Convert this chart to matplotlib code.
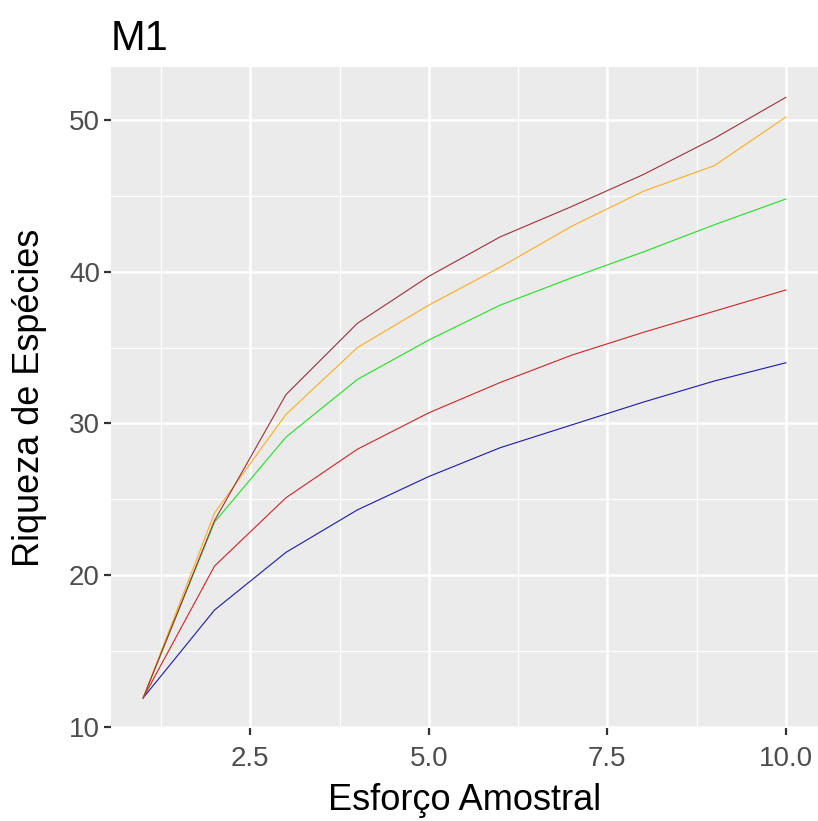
import numpy as np
import matplotlib
matplotlib.use("Agg")
import matplotlib.pyplot as plt
from matplotlib.ticker import MultipleLocator

# ------------------------- data -------------------------
esforco = [1, 2, 3, 4, 5, 6, 7, 8, 9, 10]

riq_brown = [11.9, 23.6, 31.9, 36.6, 39.7, 42.3, 44.3, 46.4, 48.8, 51.5]
riq_orange = [11.9, 24.1, 30.6, 35.0, 37.8, 40.3, 43.0, 45.3, 47.0, 50.2]
riq_green = [11.9, 23.5, 29.1, 32.9, 35.5, 37.8, 39.6, 41.3, 43.1, 44.8]
riq_red = [11.9, 20.6, 25.1, 28.3, 30.7, 32.7, 34.5, 36.0, 37.4, 38.8]
riq_blue = [11.9, 17.7, 21.5, 24.3, 26.5, 28.4, 29.9, 31.4, 32.8, 34.0]

SERIES = [
    (riq_blue, "#1a1aa8"),
    (riq_red, "#d02525"),
    (riq_green, "#22e022"),
    (riq_orange, "#ffad20"),
    (riq_brown, "#a0303a"),
]

plt.rcParams["font.family"] = ["Liberation Sans", "DejaVu Sans"]

# ------------------------- figure -------------------------
fig = plt.figure(figsize=(8.18, 8.21), dpi=100)
ax = fig.add_axes([111 / 818, 93 / 821, 707 / 818, 661 / 821])

ax.set_facecolor("#EBEBEB")
for s in ax.spines.values():
    s.set_visible(False)

for ys, col in SERIES:
    ax.plot(esforco, ys, color=col, linewidth=0.8, zorder=3)

ax.set_xlim(0.55, 10.45)
ax.set_ylim(9.92, 53.5)
ax.xaxis.set_minor_locator(MultipleLocator(1.25))
ax.yaxis.set_minor_locator(MultipleLocator(5))
ax.set_xticks([2.5, 5.0, 7.5, 10.0])
ax.set_xticklabels(["2.5", "5.0", "7.5", "10.0"])
ax.set_yticks([10, 20, 30, 40, 50])

ax.grid(which="major", color="white", linewidth=1.8, zorder=0)
ax.grid(which="minor", color="white", linewidth=0.9, zorder=0)
ax.set_axisbelow(True)

ax.tick_params(which="major", length=5, width=1.6, color="#333333",
               labelcolor="#4D4D4D", labelsize=20, pad=3)
ax.tick_params(axis="x", which="major", pad=8)
ax.tick_params(which="minor", length=0)

ax.set_xlabel("Esforço Amostral", fontsize=26, color="black", labelpad=8)
ax.set_ylabel("Riqueza de Espécies", fontsize=26, color="black", labelpad=16)
ax.set_title("M1", fontsize=30, loc="left", pad=12, color="black")

fig.savefig("out.png", dpi=100)
